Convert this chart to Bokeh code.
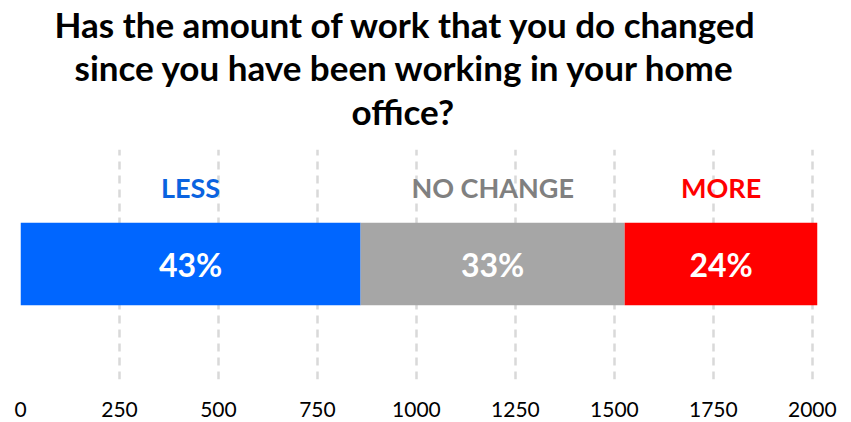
from bokeh.plotting import figure
from bokeh.models import ColumnDataSource, Range1d, Title, FixedTicker
from bokeh.core.properties import value
from bokeh.embed import file_html
from bokeh.resources import INLINE
import numpy as np

# ---- data ----
categories = ["LESS", "NO CHANGE", "MORE"]
counts = [859, 667, 487]
bar_colors = ["#0066FF", "#A6A6A6", "#FF0000"]
label_colors = ["#0A63E0", "#808080", "#FF0000"]
x_ticks = [0, 250, 500, 750, 1000, 1250, 1500, 1750, 2000]
title_lines = ["Has the amount of work that you do changed",
               "since you have been working in your home",
               "office?"]
# left offsets of each title line (pixels from plot frame's left edge)
title_offsets = [34, 54, 331]
title_standoffs = [2, -3, 2]

total = sum(counts)
rights = np.cumsum(counts)
lefts = rights - np.array(counts)
centers = (lefts + rights) / 2
pcts = [f"{round(c / total * 100)}%" for c in counts]

src = ColumnDataSource(dict(
    cat=categories, left=lefts, right=rights, center=centers,
    pct=pcts, color=bar_colors, lcolor=label_colors,
    y=[0.502] * 3, ly=[0.834] * 3,
))

FONT = "Lato"

p = figure(width=851, height=422, output_backend="svg", toolbar_location=None,
           x_range=Range1d(0, total), y_range=Range1d(0, 1),
           min_border_left=20, min_border_right=34, min_border_top=0,
           min_border_bottom=43)
p.outline_line_color = None
p.background_fill_color = "white"
p.border_fill_color = "white"

p.hbar(y="y", left="left", right="right", height=0.358, color="color",
       line_color=None, source=src)
p.text(x="center", y="y", text="pct", text_color="white",
       text_font=value(FONT), text_font_style="bold", text_font_size="32px",
       text_align="center", text_baseline="middle", source=src)
p.text(x="center", y="ly", text="cat", text_color="lcolor",
       text_font=value(FONT), text_font_style="bold", text_font_size="27px",
       text_align="center", text_baseline="middle", source=src)

# axes
p.yaxis.visible = False
p.ygrid.visible = False
xa = p.xaxis[0]
xa.ticker = FixedTicker(ticks=x_ticks)
xa.axis_line_color = None
xa.major_tick_line_color = None
xa.minor_tick_line_color = None
xa.major_label_text_font = FONT
xa.major_label_text_font_size = "21px"
xa.major_label_text_color = "#000000"
xa.major_label_standoff = 16

p.xgrid.ticker = FixedTicker(ticks=x_ticks)
p.xgrid.grid_line_color = "#D9D9D9"
p.xgrid.grid_line_width = 2.5
p.xgrid.grid_line_dash = "8 6"

# spacer between title block and plot frame
p.add_layout(Title(text=" ", text_font_size="1px", standoff=13), "above")
# titles (added bottom line first; later ones go further up)
for line, off, so in reversed(list(zip(title_lines, title_offsets, title_standoffs))):
    t = Title(text=line, align="left", vertical_align="middle", text_font=FONT,
              text_font_style="bold", text_font_size="35px", text_color="black",
              offset=off, standoff=so)
    p.add_layout(t, "above")

open("out.html", "w").write(file_html(p, INLINE))
